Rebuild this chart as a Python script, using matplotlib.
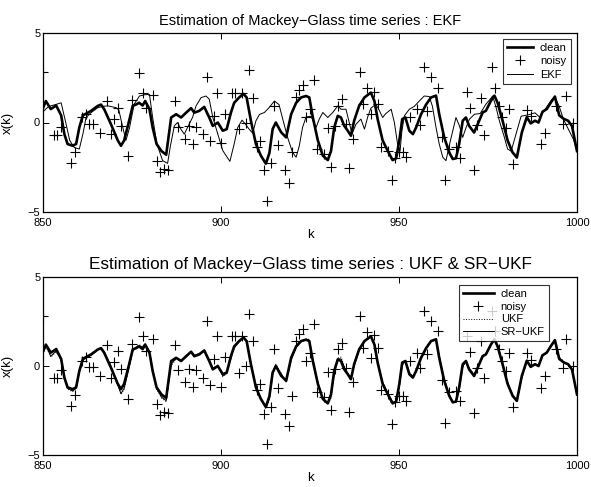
import matplotlib
matplotlib.use("Agg")
import matplotlib.pyplot as plt

plt.rcParams['font.family'] = ['Liberation Sans', 'DejaVu Sans']

# ---- data ----
k_clean = [850, 850.8, 852.2, 853.7, 855.1, 856.0, 856.9, 858.3, 859.3, 860.2, 861.2, 862.1, 863.5, 865.4,
           866.3, 867.2, 869.1, 871.0, 871.9, 872.8, 874.2, 875.2, 876.1, 877.0, 878.0, 878.7, 879.9, 880.8,
           881.9, 883.3, 884.6, 886.0, 887.4, 888.8, 890.2, 891.6, 892.5, 893.9, 895.3, 896.7, 897.7, 899.1,
           900.5, 901.6, 902.8, 903.7, 905.1, 906.3, 907.2, 908.4, 909.8, 911.2, 912.6, 913.6, 914.5, 915.4,
           916.9, 918.3, 919.7, 921.1, 922.5, 923.9, 924.8, 925.8, 927.2, 928.6, 930.0, 930.9, 931.8, 932.8,
           933.7, 934.6, 935.6, 936.5, 937.4, 938.8, 940.3, 942.1, 943.1, 944.0, 945.4, 946.8, 948.2, 949.2,
           950.1, 950.9, 951.8, 952.9, 953.9, 954.8, 956.2, 957.6, 959.0, 960.4, 961.3, 962.7, 964.1, 965.1,
           966.0, 966.9, 967.9, 968.8, 969.7, 971.1, 972.1, 973.5, 974.4, 975.8, 976.8, 977.7, 979.1, 980.5,
           981.9, 983.1, 984.5, 985.9, 987.0, 988.2, 989.2, 990.3, 991.5, 992.6, 993.8, 995.0, 996.3, 997.5,
           998.6, 1000]
x_clean = [0.8, 1.2, 0.75, 0.95, 0.4, -0.65, -1.2, -1.3, -1.2, -0.28, 0.4, 0.5, 0.65, 0.93,
           1.0, 0.74, -0.1, -1.0, -1.3, -1.0, 0.1, 0.93, 1.0, 1.1, 0.95, 1.2, 0.75, -0.28,
           -1.2, -1.6, -1.8, 0.28, 0.46, 0.28, 0.55, 0.8, 0.55, 0.65, 0.87, 0.28, -0.19, 0.0,
           -0.46, -0.37, 0.56, 1.1, 1.4, 1.6, 1.4, 0.1, -1.2, -1.85, -2.3, -1.7, -0.37, 0.0,
           -0.55, -0.83, 0.46, 1.1, 1.4, 1.48, 1.4, 0.28, -1.0, -1.85, -2.1, -1.6, -0.28, 0.37,
           0.28, -0.18, -0.46, -0.74, 0.1, 0.93, 1.4, 1.67, 1.2, 0.19, -1.0, -1.57, -2.1, -2.0,
           -1.0, 0.19, 0.28, -0.46, -0.65, -0.28, 0.46, 1.0, 1.4, 1.5, 0.46, -0.83, -1.67, -2.04,
           -2.0, -1.2, 0.1, 0.28, -0.19, -0.56, -0.1, 0.56, 0.65, 1.2, 1.5, 1.1, 0.1, -1.0,
           -1.67, -1.96, -0.56, 0.3, -0.05, 0.1, 0.0, 0.6, 0.75, 1.1, 1.45, 0.4, 0.2, 0.1,
           -0.2, -1.6]

k_noisy = [850, 853, 854, 855, 858, 859, 861, 862, 863, 864, 866, 868, 869, 870, 871, 872, 874, 875,
           877, 878, 879, 881, 882, 883, 884, 885, 887, 888, 890, 891, 892, 893, 895, 896, 897, 898,
           899, 900, 901, 903, 904, 905, 906, 907, 908, 909, 910, 911, 912, 913, 914, 915, 916, 918,
           919, 920, 921, 922, 923, 924, 925, 926, 927, 929, 930, 931, 932, 933, 934, 935, 936, 937,
           939, 940, 941, 942, 943, 944, 945, 947, 948, 949, 950, 951, 952, 953, 955, 956, 957, 958,
           959, 961, 962, 963, 964, 966, 967, 969, 970, 971, 972, 973, 974, 976, 977, 978, 979, 980,
           981, 982, 986, 987, 990, 991, 994, 996, 997, 999]
x_noisy = [2.82, -0.68, -0.68, -0.24, -2.26, -1.63, 0.28, 0.5, -0.06, -0.06, -0.56, 1.2, -0.65, 0.22,
           0.83, -0.18, -1.85, 1.24, 2.78, 1.67, 0.83, 1.54, -2.13, -2.75, -2.6, -2.65, 1.2, -0.24,
           -0.92, -0.18, -1.2, -0.24, -0.65, 2.54, -1.06, 0.37, 1.67, -1.17, 0.5, 1.67, 1.67, -0.37,
           1.67, 0.0, 2.93, 1.39, -1.35, -1.02, -2.68, -4.4, -2.28, 0.93, -1.24, -2.68, -3.39, -1.67,
           1.43, 1.8, 2.07, 0.28, 0.74, 2.35, -1.48, -1.76, -0.31, -2.46, -0.19, 0.93, 1.3, -0.09,
           -2.56, -0.92, 2.81, 1.02, 1.91, 0.46, 1.72, 1.02, -1.35, -1.57, -3.24, -2.0, -1.67, -1.67,
           -1.94, 0.28, 0.74, -0.13, 3.09, 0.65, 2.54, 1.94, -0.8, -3.2, -1.48, -1.39, -1.98, 1.7,
           0.8, -2.65, -0.13, 1.39, -0.68, 3.09, 1.94, 0.93, 0.28, -0.28, 0.74, -2.31, 0.72, 0.35,
           -1.22, -0.57, 0.94, -0.11, 1.5, 0.0]

k_ekf = [850, 851.6, 853.5, 855.1, 856.5, 857.5, 858.8, 860.2, 861.2, 862.1, 863.5, 865.4, 866.8, 868.2,
         870.5, 871.3, 872.2, 873.3, 874.3, 875.6, 877.1, 878.5, 879.9, 880.8, 882.0, 883.6, 885.0, 885.8,
         886.9, 887.8, 888.8, 889.7, 890.6, 892.0, 893.0, 894.4, 895.8, 896.7, 897.7, 899.1, 900.5, 902.5,
         903.7, 904.7, 905.9, 906.9, 907.9, 908.9, 909.8, 910.8, 912.2, 913.6, 915.0, 916.3, 917.2, 918.7,
         920.1, 921.1, 922.0, 922.9, 923.9, 925.3, 926.7, 927.6, 928.6, 930.0, 931.4, 932.8, 933.7, 935.1,
         935.9, 936.8, 937.9, 939.3, 940.3, 941.2, 942.1, 943.5, 944.4, 945.4, 946.3, 947.8, 948.7, 949.6,
         950.3, 950.8, 951.5, 952.9, 954.3, 955.7, 957.1, 958.5, 959.4, 960.4, 961.3, 962.3, 963.2, 964.1,
         965.1, 966.0, 967.0, 967.9, 968.8, 969.8, 971.2, 972.8, 974.4, 975.4, 976.3, 977.2, 978.2, 979.6,
         980.5, 981.5, 982.5, 983.5, 984.3, 985.5, 986.8, 988.2, 989.5, 991.0, 992.9, 993.8, 995.0, 996.2,
         997.6, 999.0, 1000]
x_ekf = [0.6, 0.9, 1.0, 1.1, -0.1, -1.0, -1.4, -1.48, -0.65, 0.28, 0.55, 0.83, 0.9, 0.93,
         0.83, 0.7, -0.1, -1.0, -0.3, 1.02, 1.48, 1.55, 1.57, 0.28, -1.2, -2.13, -2.28, -1.3,
         -0.18, 0.0, -0.4, -0.65, -0.28, 0.28, 0.93, 1.39, 1.48, 1.3, 0.28, -0.65, -1.57, -2.17,
         -1.2, -0.28, 0.13, -0.1, -0.37, -0.6, 0.09, 0.45, 0.56, 0.85, 1.2, 1.0, 0.3, -0.83,
         -1.67, -1.94, -1.3, -0.28, 0.31, 0.35, -0.28, 0.19, 0.56, 0.28, 0.56, 0.93, 0.74, 0.74,
         0.1, -0.65, -0.1, 0.19, -0.37, 0.3, 0.8, 1.02, 0.7, 0.28, 0.5, 0.74, 0.0, -1.2,
         -1.6, -0.5, 0.37, 0.74, 0.9, 1.2, 1.48, 1.45, 0.9, -0.28, -1.2, -1.94, -2.13, -1.3,
         -0.46, 0.28, -0.2, -0.83, -0.3, 0.19, 0.46, 0.5, 1.02, 1.25, 1.48, 0.9, 0.09, -0.83,
         -1.48, -1.6, -0.9, -0.2, 0.35, 0.4, 0.45, 0.54, 0.3, 0.72, 1.28, 1.43, 0.9, 0.17,
         -0.39, -0.94, -1.6]

# UKF / SR-UKF estimates (bottom panel), read at the same k as the clean curve
x_ukf = [0.7, 1.1, 0.5, 0.8, 0.3, -0.6, -1.3, -1.45, -1.3, -0.4, 0.3, 0.45, 0.6, 0.9,
         1.05, 0.8, 0.0, -1.1, -1.6, -1.3, -0.1, 0.8, 1.05, 1.2, 1.1, 1.25, 0.85, -0.2,
         -1.3, -1.8, -2.0, 0.0, 0.4, 0.35, 0.5, 0.85, 0.6, 0.7, 0.9, 0.35, -0.1, 0.05,
         -0.6, -0.45, 0.4, 1.0, 1.35, 1.6, 1.45, 0.2, -1.1, -1.9, -2.4, -1.9, -0.5, 0.1,
         -0.4, -0.9, 0.3, 1.0, 1.35, 1.5, 1.5, 0.4, -0.9, -1.8, -2.1, -1.8, -0.4, 0.45,
         0.5, 0.0, -0.4, -0.6, 0.0, 0.85, 1.35, 1.65, 1.3, 0.3, -0.9, -1.5, -2.0, -2.05,
         -1.2, 0.05, 0.25, -0.35, -0.6, -0.3, 0.4, 0.95, 1.35, 1.5, 0.6, -0.7, -1.6, -2.0,
         -2.05, -1.4, -0.1, 0.25, -0.1, -0.5, -0.15, 0.5, 0.7, 1.15, 1.5, 1.2, 0.2, -0.9,
         -1.6, -1.95, -0.7, 0.25, 0.0, 0.05, 0.05, 0.55, 0.8, 1.1, 1.45, 0.5, 0.25, 0.1,
         -0.15, -1.55]
x_srukf = [0.75, 1.15, 0.55, 0.85, 0.35, -0.6, -1.25, -1.4, -1.25, -0.35, 0.35, 0.45, 0.6, 0.9,
           1.0, 0.8, -0.05, -1.05, -1.55, -1.25, -0.05, 0.85, 1.05, 1.15, 1.05, 1.25, 0.8, -0.25,
           -1.25, -1.75, -1.95, 0.1, 0.45, 0.3, 0.5, 0.8, 0.6, 0.7, 0.9, 0.3, -0.15, 0.0,
           -0.55, -0.4, 0.45, 1.05, 1.4, 1.6, 1.4, 0.15, -1.15, -1.9, -2.35, -1.8, -0.45, 0.05,
           -0.45, -0.85, 0.35, 1.05, 1.4, 1.5, 1.45, 0.35, -0.95, -1.85, -2.1, -1.7, -0.35, 0.4,
           0.4, -0.05, -0.45, -0.65, 0.05, 0.9, 1.4, 1.65, 1.25, 0.25, -0.95, -1.55, -2.05, -2.0,
           -1.1, 0.1, 0.25, -0.4, -0.6, -0.3, 0.45, 1.0, 1.4, 1.5, 0.55, -0.75, -1.65, -2.0,
           -2.0, -1.3, 0.0, 0.25, -0.15, -0.5, -0.1, 0.5, 0.65, 1.2, 1.5, 1.15, 0.15, -0.95,
           -1.65, -1.95, -0.6, 0.3, 0.0, 0.1, 0.0, 0.6, 0.75, 1.1, 1.45, 0.45, 0.2, 0.1,
           -0.2, -1.6]

xticks = [850, 900, 950, 1000]
yticks = [-5, 0, 5]

# ---- figure ----
W, H = 591, 487
fig = plt.figure(figsize=(W / 100, H / 100), dpi=100)

def px_axes(l, t, r, b):
    return [l / W, 1 - b / H, (r - l) / W, (b - t) / H]

ax1 = fig.add_axes(px_axes(43, 33, 577, 212))
ax2 = fig.add_axes(px_axes(43, 277, 577, 455))

def style(ax, title, tsize):
    ax.set_xlim(850, 1000)
    ax.set_ylim(-5, 5)
    ax.set_xticks(xticks)
    ax.set_yticks(yticks)
    ax.tick_params(direction='in', length=4, width=0.7, top=True, right=True,
                   labelsize=8, colors='black')
    ax.tick_params(axis='x', pad=4)
    ax.tick_params(axis='y', pad=2)
    for s in ax.spines.values():
        s.set_linewidth(0.9)
        s.set_color('black')
    ax.set_xlabel('k', fontsize=9.5, labelpad=1)
    ax.set_ylabel('x(k)', fontsize=9.5)
    ax.yaxis.set_label_coords(-0.054, 0.5)
    ax.set_title(title, fontsize=tsize, pad=6)

# top panel
ax1.plot(k_clean, x_clean, color='black', lw=1.9, label='clean')
ax1.plot(k_noisy, x_noisy, linestyle='none', marker='+', color='black', ms=7, mew=0.8, label='noisy')
ax1.plot(k_ekf, x_ekf, color='black', lw=0.7, label='EKF')
style(ax1, 'Estimation of Mackey\u2212Glass time series : EKF', 10.5)
leg1 = ax1.legend(loc='upper left', bbox_to_anchor=(0.861, 0.966), fontsize=8, frameon=True,
                  fancybox=False, edgecolor='black', handlelength=2.4, borderpad=0.35,
                  labelspacing=0.3, handletextpad=0.6, borderaxespad=0)
leg1.get_frame().set_linewidth(0.8)

# bottom panel
ax2.plot(k_clean, x_clean, color='black', lw=1.9, label='clean')
ax2.plot(k_noisy, x_noisy, linestyle='none', marker='+', color='black', ms=7, mew=0.8, label='noisy')
ax2.plot(k_clean, x_ukf, color='black', lw=0.7, linestyle=':', label='UKF')
ax2.plot(k_clean, x_srukf, color='black', lw=0.7, label='SR\u2212UKF')
style(ax2, 'Estimation of Mackey\u2212Glass time series : UKF & SR\u2212UKF', 12.3)
leg2 = ax2.legend(loc='upper left', bbox_to_anchor=(0.779, 0.955), fontsize=8, frameon=True,
                  fancybox=False, edgecolor='black', handlelength=2.8, borderpad=0.35,
                  labelspacing=0.25, handletextpad=0.6, borderaxespad=0)
leg2.get_frame().set_linewidth(0.8)

fig.savefig('out.png', dpi=100)
